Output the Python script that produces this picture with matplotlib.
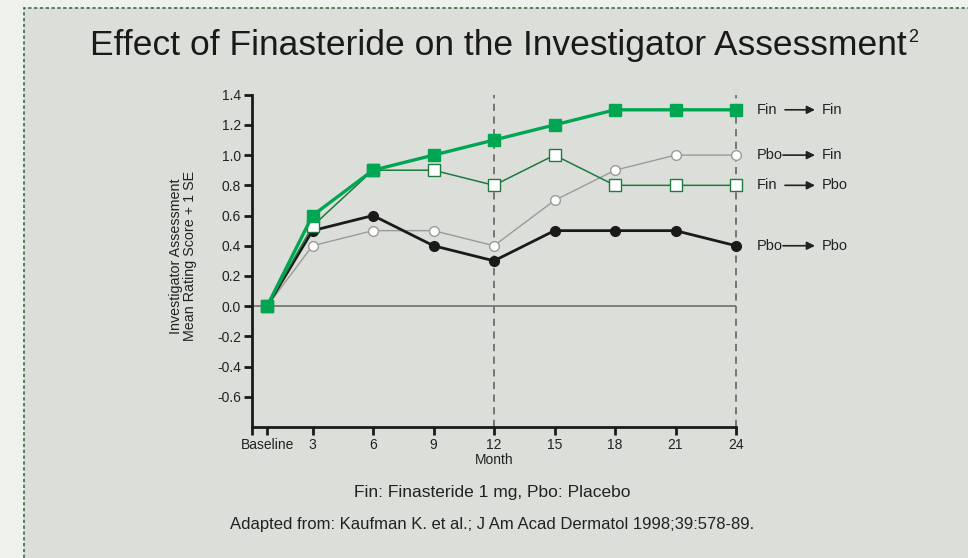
import matplotlib.pyplot as plt
from matplotlib.patches import Rectangle

plt.rcParams['font.family'] = ['Liberation Sans', 'DejaVu Sans']

# months (baseline drawn a little right of the axis origin)
months = [0.75, 3, 6, 9, 12, 15, 18, 21, 24]
tick_labels = ['Baseline', '3', '6', '9', '12', '15', '18', '21', '24']

fin_fin = [0, 0.6, 0.9, 1.0, 1.1, 1.2, 1.3, 1.3, 1.3]
fin_pbo = [0, 0.53, 0.9, 0.9, 0.8, 1.0, 0.8, 0.8, 0.8]
pbo_fin = [0, 0.4, 0.5, 0.5, 0.4, 0.7, 0.9, 1.0, 1.0]
pbo_pbo = [0, 0.5, 0.6, 0.4, 0.3, 0.5, 0.5, 0.5, 0.4]

series_names = [('Fin', 'Fin'), ('Pbo', 'Fin'), ('Fin', 'Pbo'), ('Pbo', 'Pbo')]
series_end = [fin_fin[-1], pbo_fin[-1], fin_pbo[-1], pbo_pbo[-1]]

green = '#00a651'
dkgreen = '#1e7a3e'
W, H = 968, 558

fig = plt.figure(figsize=(W / 100, H / 100), dpi=100)
fig.patch.set_facecolor('#eff1ed')
# inner panel, only its top and left edges show
fig.patches.append(Rectangle((24 / W, -0.1), 1.2, 1.1 - 8 / H, transform=fig.transFigure,
                             facecolor='#dcdfd9', edgecolor='#3d6b45', linewidth=1.2,
                             linestyle=(0, (2, 1.5)), zorder=-5))

ax = fig.add_axes([252 / W, 1 - 427 / H, (736 - 252) / W, (427 - 94.7) / H])
ax.set_facecolor('none')
ax.set_xlim(0, 24)
ax.set_ylim(-0.80, 1.4)

ax.axhline(0, xmin=0, xmax=1, color='#6e6e6e', linewidth=1.2, zorder=1)
for m in (12, 24):
    ax.axvline(m, color='#6e6e6e', linewidth=1.3, linestyle=(0, (4, 3)), zorder=1, clip_on=False)

ax.plot(months, pbo_fin, color='#9a9a9a', linewidth=1, marker='o', markersize=7,
        markerfacecolor='white', markeredgecolor='#9a9a9a', zorder=3, clip_on=False)
ax.plot(months, pbo_pbo, color='#1a1a1a', linewidth=2, marker='o', markersize=7,
        markerfacecolor='#1a1a1a', markeredgecolor='#1a1a1a', zorder=4, clip_on=False)
ax.plot(months, fin_pbo, color=dkgreen, linewidth=1.1, marker='s', markersize=8,
        markerfacecolor='white', markeredgecolor=dkgreen, zorder=5, clip_on=False)
ax.plot(months, fin_fin, color=green, linewidth=2.4, marker='s', markersize=8.5,
        markerfacecolor=green, markeredgecolor=green, zorder=6, clip_on=False)

for sp in ('top', 'right'):
    ax.spines[sp].set_visible(False)
for sp in ('left', 'bottom'):
    ax.spines[sp].set_linewidth(2)
    ax.spines[sp].set_color('#1a1a1a')

ax.set_xticks([0] + months)
ax.set_xticklabels([''] + tick_labels)
ax.set_yticks([1.4, 1.2, 1.0, 0.8, 0.6, 0.4, 0.2, 0.0, -0.2, -0.4, -0.6])
ax.set_yticklabels(['1.4', '1.2', '1.0', '0.8', '0.6', '0.4', '0.2', '0.0', '-0.2', '-0.4', '-0.6'])
ax.tick_params(axis='both', direction='out', length=6, width=2, color='#1a1a1a',
               labelsize=10, labelcolor='#222222', pad=2)
ax.set_xlabel('Month', fontsize=10, color='#222222', labelpad=1)

fig.text(183 / W, 1 - 256 / H, 'Investigator Assessment\nMean Rating Score + 1 SE',
         rotation=90, ha='center', va='center', fontsize=10.3, color='#222222',
         linespacing=1.0)

for (a, b), y in zip(series_names, series_end):
    ax.annotate(a, xy=(757 / W, y), xycoords=('figure fraction', 'data'),
                va='center', ha='left', fontsize=10.5, color='#222222')
    x0 = 785 if a == 'Fin' else 783
    ax.annotate('', xy=(815 / W, y), xytext=(x0 / W, y),
                xycoords=('figure fraction', 'data'), textcoords=('figure fraction', 'data'),
                arrowprops=dict(arrowstyle='-|>', color='#222222', lw=1.2,
                                mutation_scale=12, shrinkA=0, shrinkB=0))
    ax.annotate(b, xy=(822 / W, y), xycoords=('figure fraction', 'data'),
                va='center', ha='left', fontsize=10.5, color='#222222')

fig.text(907 / W, 1 - 45 / H, 'Effect of Finasteride on the Investigator Assessment',
         ha='right', va='center', fontsize=25.5, color='#1a1a1a')
fig.text(908 / W, 1 - 37 / H, '2', ha='left', va='center', fontsize=13, color='#1a1a1a')

fig.text(492 / W, 1 - 492 / H, 'Fin: Finasteride 1 mg, Pbo: Placebo',
         ha='center', va='center', fontsize=12.5, color='#222222')
fig.text(492 / W, 1 - 524 / H, 'Adapted from: Kaufman K. et al.; J Am Acad Dermatol 1998;39:578-89.',
         ha='center', va='center', fontsize=12, color='#222222')

fig.savefig('out.png', dpi=100, facecolor=fig.get_facecolor())
